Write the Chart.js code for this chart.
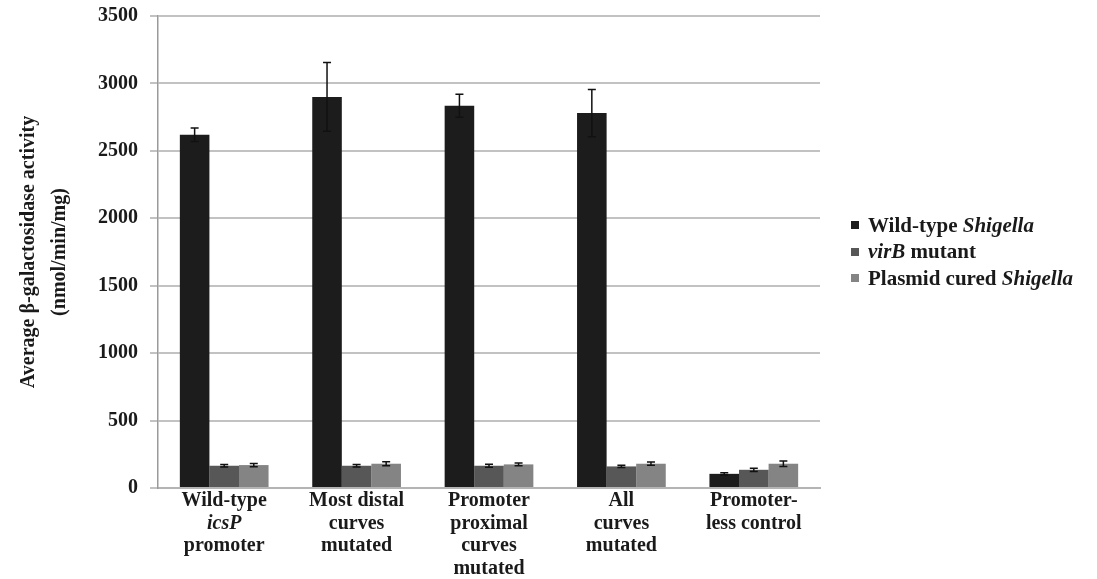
<!DOCTYPE html>
<html>
<head>
<meta charset="utf-8">
<script src="https://cdn.jsdelivr.net/npm/chart.js@4/dist/chart.umd.min.js"></script>
<style>
  html, body { margin: 0; padding: 0; background: #fff; }
  #wrap { position: relative; width: 1097px; height: 579px; }
  #chart { position: absolute; left: 0; top: 0; }
  #legend { position: absolute; left: 851px; top: 212px; font: bold 21px "Liberation Serif", serif; color: #1a1a1a; }
  #legend .row { height: 26.5px; display: flex; align-items: center; white-space: nowrap; }
  #legend .box { width: 8px; height: 8px; margin-right: 9px; }
</style>
</head>
<body>
<div id="wrap">
  <canvas id="chart" width="1097" height="579"></canvas>
  <div id="legend"></div>
</div>
<script>
// Category labels, one array entry per line; *text* marks italic words
const categories = [
  ["Wild-type", "*icsP*", "promoter"],
  ["Most distal", "curves", "mutated"],
  ["Promoter", "proximal", "curves", "mutated"],
  ["All", "curves", "mutated"],
  ["Promoter-", "less control"]
];

const seriesNames = ["Wild-type *Shigella*", "*virB* mutant", "Plasmid cured *Shigella*"];
const seriesColors = ["#1c1c1c", "#575757", "#848484"];

// Average activity (nmol/min/mg) and error for each strain
const wildType    = [2620, 2900, 2835, 2780, 105];
const wildTypeErr = [50, 255, 85, 175, 8];
const virBMutant    = [165, 165, 165, 160, 135];
const virBMutantErr = [10, 10, 12, 8, 12];
const plasmidCured    = [170, 180, 175, 180, 180];
const plasmidCuredErr = [12, 15, 10, 12, 20];

const yTicks = [0, 500, 1000, 1500, 2000, 2500, 3000, 3500];

const serifBold = "'Liberation Serif', 'Times New Roman', serif";

function plain(s) { return s.replace(/\*/g, ""); }

// Whiskers drawn from each bar's value +/- its error
const errorBars = {
  id: "errorBars",
  afterDatasetsDraw(chart) {
    const ctx = chart.ctx;
    const y = chart.scales.y;
    ctx.save();
    ctx.strokeStyle = "#111";
    ctx.lineWidth = 1.5;
    chart.data.datasets.forEach((ds, di) => {
      const meta = chart.getDatasetMeta(di);
      meta.data.forEach((bar, i) => {
        const v = ds.data[i], e = ds.errors[i];
        const top = y.getPixelForValue(v + e);
        const bot = y.getPixelForValue(Math.max(0, v - e));
        const cap = 4;
        ctx.beginPath();
        ctx.moveTo(bar.x, bot); ctx.lineTo(bar.x, top);
        ctx.moveTo(bar.x - cap, top); ctx.lineTo(bar.x + cap, top);
        ctx.moveTo(bar.x - cap, bot); ctx.lineTo(bar.x + cap, bot);
        ctx.stroke();
      });
    });
    ctx.restore();
  }
};

// Category labels with mixed upright / italic words
const categoryLabels = {
  id: "categoryLabels",
  afterDraw(chart) {
    const ctx = chart.ctx;
    const x = chart.scales.x;
    const base = chart.chartArea.bottom;
    ctx.save();
    ctx.fillStyle = "#1a1a1a";
    ctx.textBaseline = "middle";
    ctx.textAlign = "left";
    categories.forEach((lines, i) => {
      const cx = x.getPixelForValue(i);
      lines.forEach((line, k) => {
        const parts = line.split("*");
        const fonts = parts.map((_, p) => (p % 2 ? "italic bold 20px " : "bold 20px ") + serifBold);
        let w = 0;
        parts.forEach((t, p) => { ctx.font = fonts[p]; w += ctx.measureText(t).width; });
        let px = cx - w / 2;
        const py = base + 13 + k * 22.5;
        parts.forEach((t, p) => {
          ctx.font = fonts[p];
          ctx.fillText(t, px, py);
          px += ctx.measureText(t).width;
        });
      });
    });
    ctx.restore();
  }
};

const datasets = [
  { label: plain(seriesNames[0]), data: wildType, errors: wildTypeErr, backgroundColor: seriesColors[0] },
  { label: plain(seriesNames[1]), data: virBMutant, errors: virBMutantErr, backgroundColor: seriesColors[1] },
  { label: plain(seriesNames[2]), data: plasmidCured, errors: plasmidCuredErr, backgroundColor: seriesColors[2] }
];

new Chart(document.getElementById("chart"), {
  type: "bar",
  data: { labels: categories.map(c => c.map(plain).join(" ")), datasets },
  options: {
    responsive: false,
    animation: false,
    devicePixelRatio: 1,
    layout: { padding: { left: 0, top: 16, right: 277, bottom: 0 } },
    datasets: { bar: { categoryPercentage: 0.67, barPercentage: 1.0, borderWidth: 0 } },
    plugins: { legend: { display: false }, tooltip: { enabled: false } },
    scales: {
      x: {
        grid: { display: false },
        border: { display: true, color: "#b4b4b4", width: 2 },
        ticks: { display: false },
        afterFit(s) { s.height = 91; s.paddingLeft = 0; s.paddingRight = 0; }
      },
      y: {
        min: 0, max: 3500,
        afterBuildTicks(s) { s.ticks = yTicks.map(v => ({ value: v })); },
        grid: { color: "#c2c2c2", lineWidth: 2, tickLength: 8, drawTicks: true },
        border: { display: true, color: "#9a9a9a", width: 1.5 },
        ticks: {
          color: "#1a1a1a", padding: 12,
          font: { family: serifBold, size: 20, weight: "bold" },
          callback: v => String(v)
        },
        title: {
          display: true,
          text: ["Average \u03b2-galactosidase activity", "(nmol/min/mg)"],
          color: "#1a1a1a",
          font: { family: serifBold, size: 20, weight: "bold", lineHeight: 1.55 },
          padding: { top: 13, bottom: 0 }
        },
        afterFit(s) { s.width = 158; s.paddingTop = 0; s.paddingBottom = 0; }
      }
    }
  },
  plugins: [errorBars, categoryLabels]
});

// Legend with italic species / gene names
const legend = document.getElementById("legend");
seriesNames.forEach((name, i) => {
  const row = document.createElement("div");
  row.className = "row";
  const box = document.createElement("span");
  box.className = "box";
  box.style.background = seriesColors[i];
  row.appendChild(box);
  name.split("*").forEach((t, p) => {
    if (!t) return;
    const el = document.createElement(p % 2 ? "i" : "span");
    el.textContent = t;
    el.style.whiteSpace = "pre";
    row.appendChild(el);
  });
  legend.appendChild(row);
});
</script>
</body>
</html>
